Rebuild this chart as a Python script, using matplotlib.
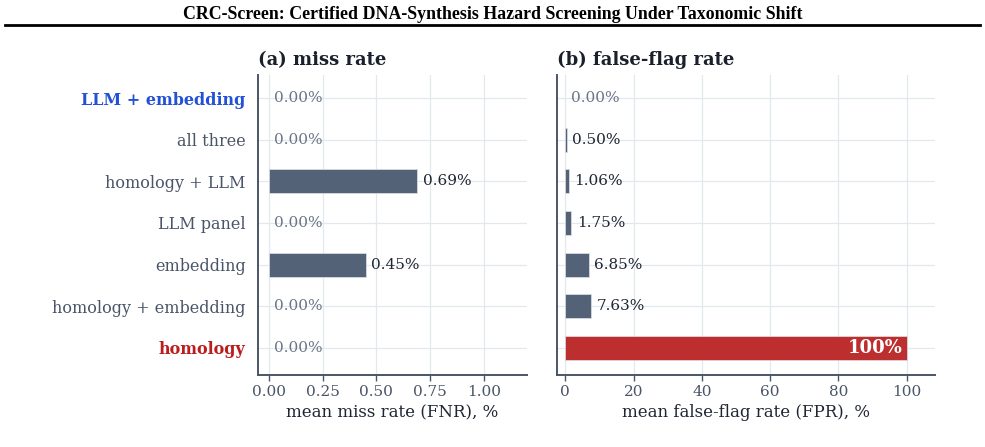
import matplotlib
matplotlib.use('Agg')
import matplotlib.pyplot as plt


# Data
methods = ['LLM + embedding', 'all three', 'homology + LLM', 'LLM panel',
           'embedding', 'homology + embedding', 'homology']
fnr = [0.00, 0.00, 0.69, 0.00, 0.45, 0.00, 0.00]
fpr = [0.00, 0.50, 1.06, 1.75, 6.85, 7.63, 100.0]
fnr_ticks = [0.00, 0.25, 0.50, 0.75, 1.00]
fpr_ticks = [0, 20, 40, 60, 80, 100]

slate = '#546278'
red = '#bd2e2e'
ink = '#1f2533'
axis_col = '#4a5568'
grid_col = '#e3e8ef'

plt.rcParams['font.family'] = ['DejaVu Serif']

fig = plt.figure(figsize=(9.85, 4.47), dpi=100)

# Title with rule underneath
fig.text(0.5, 0.968, 'CRC-Screen: Certified DNA-Synthesis Hazard Screening Under Taxonomic Shift',
         ha='center', va='center', family='Liberation Serif', weight='bold',
         fontsize=12.9, color='black')
fig.add_artist(matplotlib.lines.Line2D([0.005, 0.995], [0.943, 0.943],
                                       color='black', linewidth=2))

ax1 = fig.add_axes([0.262, 0.161, 0.273, 0.671])
ax2 = fig.add_axes([0.5655, 0.161, 0.3835, 0.671])

ypos = list(range(len(methods)))


def style(ax, xlim, ticks, fmt, xlabel, title):
    ax.set_xlim(*xlim)
    ax.set_ylim(6.65, -0.55)
    ax.set_xticks(ticks)
    ax.set_xticklabels([fmt(t) for t in ticks])
    ax.set_yticks(ypos)
    ax.grid(True, color=grid_col, linewidth=0.9)
    ax.set_axisbelow(True)
    for s in ['top', 'right']:
        ax.spines[s].set_visible(False)
    for s in ['left', 'bottom']:
        ax.spines[s].set_color(axis_col)
        ax.spines[s].set_linewidth(1.4)
    ax.tick_params(axis='x', colors=axis_col, labelsize=11, length=4, width=1, pad=3,
                   labelcolor='#4a5568')
    ax.tick_params(axis='y', length=0, pad=9)
    ax.set_xlabel(xlabel, fontsize=12, color=ink, labelpad=4)
    ax.set_title(title, loc='left', fontsize=13, weight='bold', color='#1a202c', pad=7)


def value_labels(ax, vals):
    for y, v in zip(ypos, vals):
        if v >= 100:
            ax.annotate('100%', xy=(v, y), xytext=(-3, 0), textcoords='offset points',
                        ha='right', va='center', fontsize=13, weight='bold', color='white')
        else:
            col = '#6b7587' if v == 0 else ink
            ax.annotate(f'{v:.2f}%', xy=(v, y), xytext=(4, 0), textcoords='offset points',
                        ha='left', va='center', fontsize=11, color=col)


def bars(ax, vals, colors):
    for y, v, c in zip(ypos, vals, colors):
        if v == 0:
            continue
        ax.barh(y, v, height=0.58, color=c, edgecolor='#dfe3ea', linewidth=0.5)


# (a) miss rate
bars(ax1, fnr, [slate] * len(fnr))
style(ax1, (-0.05, 1.2), fnr_ticks, lambda t: f'{t:.2f}',
      'mean miss rate (FNR), %', '(a) miss rate')
value_labels(ax1, fnr)
ax1.set_yticklabels(methods, fontsize=11.5)
for lab in ax1.get_yticklabels():
    lab.set_color('#4a5568')
ax1.get_yticklabels()[0].set_color('#2250d6')
ax1.get_yticklabels()[0].set_weight('bold')
ax1.get_yticklabels()[-1].set_color('#bb1d1d')
ax1.get_yticklabels()[-1].set_weight('bold')

# (b) false-flag rate
bars(ax2, fpr, [red if v >= 100 else slate for v in fpr])
style(ax2, (-2.4, 108.2), fpr_ticks, lambda t: f'{t:d}',
      'mean false-flag rate (FPR), %', '(b) false-flag rate')
value_labels(ax2, fpr)
ax2.set_yticklabels([])

fig.savefig('out.png', dpi=100)
